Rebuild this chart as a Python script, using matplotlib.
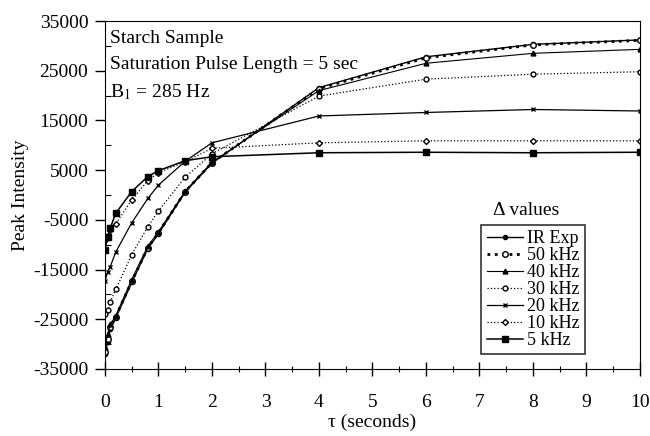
import numpy as np
import matplotlib
matplotlib.use('Agg')
import matplotlib.pyplot as plt
from matplotlib.ticker import MultipleLocator

plt.rcParams['font.family'] = ['Liberation Serif', 'DejaVu Serif']
plt.rcParams['mathtext.fontset'] = 'stix'
plt.rcParams['axes.unicode_minus'] = False

# recovery times (seconds)
tau = [0, 0.05, 0.1, 0.2, 0.5, 0.8, 1, 1.5, 2, 4, 6, 8, 10]

ir_exp = [-32000, -29500, -27000, -24800, -17600, -10800, -7800, 600, 6400, 21600, 27800, 30300, 31200]
khz50 = [-31500, -29000, -26500, -24500, -17400, -10600, -7600, 700, 6500, 21400, 27600, 30200, 31100]
khz40 = [-30500, -28000, -26000, -24300, -17000, -10300, -7400, 800, 6600, 21000, 26500, 28500, 29300]
khz30 = [-24000, -23200, -21500, -19000, -12000, -6400, -3200, 3600, 8300, 19900, 23300, 24300, 24800]
khz20 = [-17400, -15400, -14400, -11500, -5600, -700, 2000, 6800, 10500, 15900, 16600, 17200, 16900]
khz10 = [-9000, -8200, -7000, -5800, -1000, 2900, 4500, 6700, 9400, 10500, 10900, 10900, 10900]
khz5 = [-11000, -8400, -6600, -3700, 700, 3700, 4900, 6900, 7700, 8500, 8600, 8500, 8600]

labels = ['IR Exp', '50 kHz', '40 kHz', '30 kHz', '20 kHz', '10 kHz', '5 kHz']


def main():
    fig = plt.figure(figsize=(6.5, 4.36), dpi=100)
    ax = fig.add_axes([0.1615, 0.1537, 0.8231, 0.7981])

    k = dict(color='black', markeredgecolor='black')
    ax.plot(tau, ir_exp, '-', marker='o', ms=3, lw=1.0, label=labels[0], **k)
    ax.plot(tau, khz50, ':', marker='o', ms=4, lw=2.0, mfc='white', label=labels[1], **k)
    ax.plot(tau, khz40, '-', marker='^', ms=3.5, lw=0.8, label=labels[2], **k)
    ax.plot(tau, khz30, ':', marker='o', ms=3.5, lw=0.9, mfc='white', label=labels[3], **k)
    ax.plot(tau, khz20, '-', marker='x', ms=3.5, lw=0.9, label=labels[4], **k)
    ax.plot(tau, khz10, ':', marker='D', ms=3, lw=0.9, mfc='white', label=labels[5], **k)
    ax.plot(tau, khz5, '-', marker='s', ms=4, lw=1.1, label=labels[6], **k)

    ax.set_xlim(0, 10)
    ax.set_ylim(-35000, 35000)
    ax.xaxis.set_major_locator(MultipleLocator(1))
    ax.xaxis.set_minor_locator(MultipleLocator(0.5))
    ax.yaxis.set_major_locator(MultipleLocator(10000))
    ax.yaxis.set_minor_locator(MultipleLocator(5000))
    ax.tick_params(axis='x', which='major', direction='inout', length=10, width=1, labelsize=14, pad=13)
    ax.tick_params(axis='x', which='minor', direction='inout', length=5, width=0.8)
    ax.tick_params(axis='y', which='major', direction='out', length=7, width=1, labelsize=14, pad=5)
    ax.tick_params(axis='y', which='minor', direction='in', length=4, width=0.8)
    ax.set_yticks(np.arange(-35000, 35001, 10000))
    for s in ['top', 'right']:
        ax.spines[s].set_linewidth(0.8)

    ax.set_xlabel('τ (seconds)', fontsize=14, labelpad=2)
    ax.set_ylabel('Peak Intensity', fontsize=14, labelpad=3)

    ax.text(0.01, 0.975, 'Starch Sample', transform=ax.transAxes, fontsize=14, va='top')
    ax.text(0.01, 0.9, 'Saturation Pulse Length = 5 sec', transform=ax.transAxes, fontsize=14, va='top')
    ax.text(0.01, 0.823, 'B$_1$ = 285 Hz', transform=ax.transAxes, fontsize=14, va='top')
    ax.text(0.725, 0.455, 'Δ values', transform=ax.transAxes, fontsize=14, va='center')

    leg = ax.legend(loc='upper left', bbox_to_anchor=(0.703, 0.415), fontsize=13, frameon=True,
                    fancybox=False, edgecolor='black', handlelength=2.0, handletextpad=0.25,
                    labelspacing=0.0, borderpad=0.3, borderaxespad=0)
    leg.get_frame().set_linewidth(1.2)

    fig.savefig('out.png', dpi=100)


if __name__ == '__main__':
    main()
